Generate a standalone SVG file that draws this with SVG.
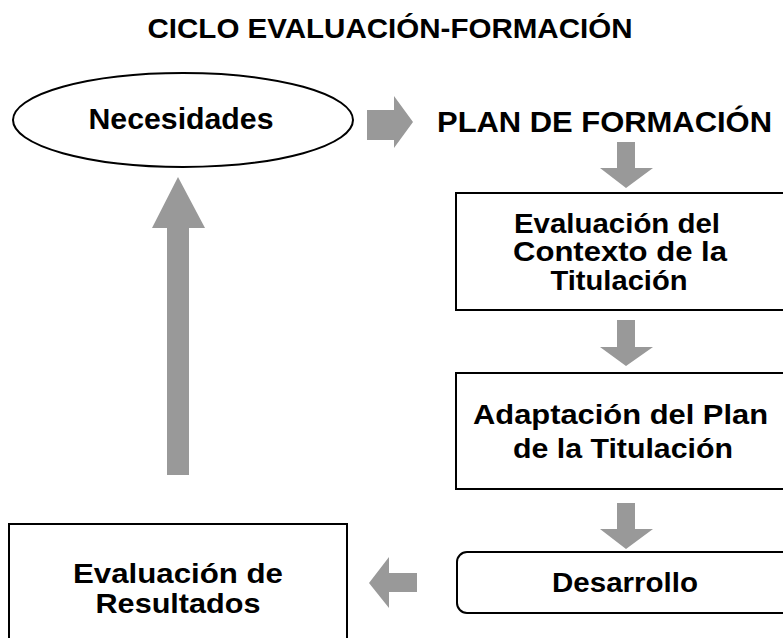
<svg xmlns="http://www.w3.org/2000/svg" width="783" height="638" viewBox="0 0 783 638">
  <style>
    .t { font-family: "Liberation Sans", Arial, sans-serif; font-weight: bold; fill: #000; text-anchor: middle; }
    .node { fill: #fff; stroke: #000; stroke-width: 2; }
    .arrow { fill: #999999; stroke: none; }
  </style>
  <rect x="0" y="0" width="783" height="638" fill="#fff"/>
  <text class="t" x="390" y="38" font-size="28" textLength="485" lengthAdjust="spacingAndGlyphs">CICLO EVALUACIÓN-FORMACIÓN</text>

  <g id="necesidades">
    <ellipse class="node" cx="183" cy="120" rx="170" ry="47"/>
    <text class="t" x="181" y="129" font-size="29" textLength="185" lengthAdjust="spacingAndGlyphs">Necesidades</text>
  </g>

  <g id="plan-formacion">
    <text class="t" x="604.5" y="132" font-size="30" textLength="335" lengthAdjust="spacingAndGlyphs">PLAN DE FORMACIÓN</text>
  </g>

  <g id="evaluacion-contexto">
    <rect class="node" x="456" y="193" width="350" height="117"/>
    <text class="t" x="617" y="233" font-size="28" textLength="206" lengthAdjust="spacingAndGlyphs">Evaluación del</text>
    <text class="t" x="620" y="261" font-size="28" textLength="214" lengthAdjust="spacingAndGlyphs">Contexto de la</text>
    <text class="t" x="619" y="290" font-size="28" textLength="137" lengthAdjust="spacingAndGlyphs">Titulación</text>
  </g>

  <g id="adaptacion-plan">
    <rect class="node" x="456" y="373" width="350" height="116"/>
    <text class="t" x="620.5" y="424" font-size="28" textLength="295" lengthAdjust="spacingAndGlyphs">Adaptación del Plan</text>
    <text class="t" x="623" y="458" font-size="28" textLength="220" lengthAdjust="spacingAndGlyphs">de la Titulación</text>
  </g>

  <g id="desarrollo">
    <rect class="node" x="457" y="552" width="350" height="61" rx="10" ry="10"/>
    <text class="t" x="625" y="592" font-size="28" textLength="146" lengthAdjust="spacingAndGlyphs">Desarrollo</text>
  </g>

  <g id="evaluacion-resultados">
    <rect class="node" x="9" y="524" width="338" height="140"/>
    <text class="t" x="178" y="583" font-size="28" textLength="210" lengthAdjust="spacingAndGlyphs">Evaluación de</text>
    <text class="t" x="178" y="613" font-size="28" textLength="165" lengthAdjust="spacingAndGlyphs">Resultados</text>
  </g>

  <g id="connectors">
    <polygon class="arrow" points="367,110 394,110 394,96 413,122 394,148 394,140 367,140"/>
    <polygon class="arrow" points="617,142 635,142 635,168 653,168 626,188 600,168 617,168"/>
    <polygon class="arrow" points="617,320 635,320 635,347 653,347 626,366 600,347 617,347"/>
    <polygon class="arrow" points="617,503 635,503 635,529 653,529 626,549 600,529 617,529"/>
    <polygon class="arrow" points="417,573 417,592 389,592 389,608 369,583 389,557 389,573"/>
    <polygon class="arrow" points="167,475 189,475 189,228 205,228 178,177 152,228 167,228"/>
  </g>
</svg>
